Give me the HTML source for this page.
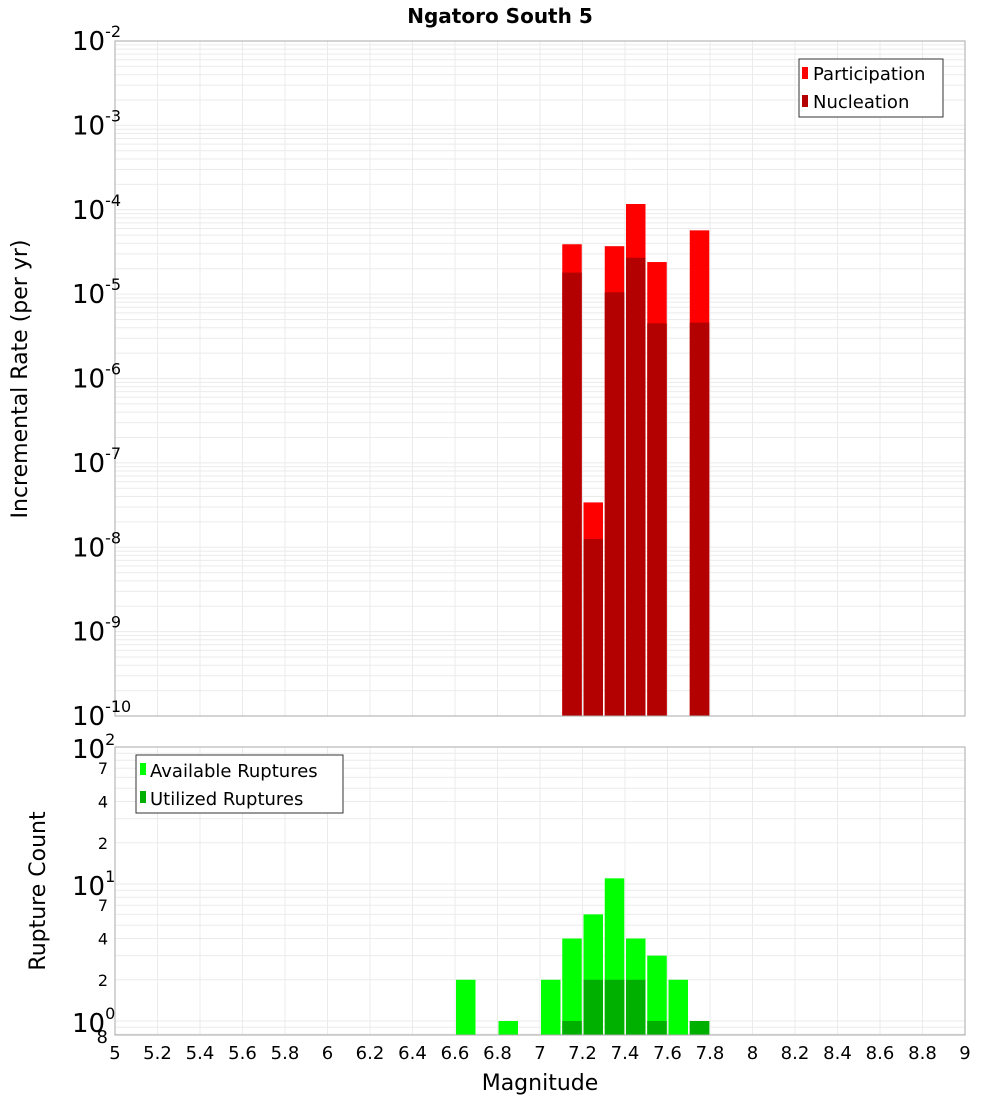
<!DOCTYPE html>
<html><head><meta charset="utf-8"><style>
body{margin:0;background:#fff;}
svg{font-family:"DejaVu Sans","Liberation Sans",sans-serif;}
</style></head><body>
<svg id="c" width="1000" height="1100" viewBox="0 0 1000 1100" xmlns="http://www.w3.org/2000/svg">
<text x="500" y="23" text-anchor="middle" font-size="20" font-weight="bold">Ngatoro South 5</text>
<g id="grid"></g>
<g id="bars"></g>
<g id="axes"></g>
<text transform="translate(27,379) rotate(-90)" text-anchor="middle" font-size="22">Incremental Rate (per yr)</text>
<text transform="translate(45,891) rotate(-90)" text-anchor="middle" font-size="22">Rupture Count</text>
<text x="540" y="1090" text-anchor="middle" font-size="22">Magnitude</text>
<g>
<rect x="799" y="59" width="144" height="58" fill="#fff" stroke="#333" stroke-width="1"/>
<rect x="802" y="67" width="6" height="12" fill="#ff0000"/>
<text x="813" y="80" font-size="18">Participation</text>
<rect x="802" y="95" width="6" height="12" fill="#b30000"/>
<text x="813" y="108" font-size="18">Nucleation</text>
</g>
<g>
<rect x="136" y="755" width="207" height="58" fill="#fff" stroke="#333" stroke-width="1"/>
<rect x="140" y="763" width="6" height="12" fill="#00ff00"/>
<text x="150" y="777" font-size="18">Available Ruptures</text>
<rect x="140" y="791" width="6" height="12" fill="#00b000"/>
<text x="150" y="805" font-size="18">Utilized Ruptures</text>
</g>
</svg>
<script>
const mags = [7.1, 7.2, 7.3, 7.4, 7.5, 7.7];
const participation = [3.9e-5, 3.4e-8, 3.7e-5, 1.17e-4, 2.4e-5, 5.7e-5];
const nucleation = [1.8e-5, 1.25e-8, 1.05e-5, 2.7e-5, 4.5e-6, 4.6e-6];
const countMags = [6.6, 6.8, 7.0, 7.1, 7.2, 7.3, 7.4, 7.5, 7.6, 7.7];
const available = [2, 1, 2, 4, 6, 11, 4, 3, 2, 1];
const utilized = [0, 0, 0, 1, 2, 2, 2, 1, 0, 1];
const xTicks = [5,5.2,5.4,5.6,5.8,6,6.2,6.4,6.6,6.8,7,7.2,7.4,7.6,7.8,8,8.2,8.4,8.6,8.8,9];
const topExps = [-2,-3,-4,-5,-6,-7,-8,-9,-10];

const NS="http://www.w3.org/2000/svg";
const L=115,R=965,T1=41,B1=716,T2=747,B2=1035;
const x=m=>L+(m-5)*(R-L)/4;
const y1=v=>T1+(-2-Math.log10(v))*(B1-T1)/8;
const y2=v=>1021-Math.log10(v)*137;
function mk(tag,attrs,parent){const e=document.createElementNS(NS,tag);for(const k in attrs)e.setAttribute(k,attrs[k]);document.getElementById(parent).appendChild(e);return e;}

// grids
for(let d=-10;d<-2;d++)for(let k=1;k<10;k++){const yy=y1(k*Math.pow(10,d));
 const g=mk('line',{x1:L,x2:R,y1:yy,y2:yy,stroke:'#ebebeb'},'grid');
 
 }
for(let d=-1;d<2;d++)for(let k=1;k<10;k++){const yy=y2(k*Math.pow(10,d));if(yy<T2||yy>B2)continue;
 const g=mk('line',{x1:L,x2:R,y1:yy,y2:yy,stroke:'#ebebeb'},'grid');
 
 }
xTicks.forEach(t=>{const xx=x(t);
 const g=mk('line',{x1:xx,x2:xx,y1:T1,y2:B1,stroke:'#ebebeb'},'grid');
 
 
 const h=mk('line',{x1:xx,x2:xx,y1:T2,y2:B2,stroke:'#ebebeb'},'grid');
 
 
 const lab=mk('text',{x:xx,y:1059,'text-anchor':'middle','font-size':18},'axes');lab.textContent=String(t);
 
 });

// top bars
mags.forEach((m,i)=>{
 const p=mk('rect',{x:x(m)+1,y:y1(participation[i]),width:19.5,height:B1-y1(participation[i]),fill:'#ff0000'},'bars');
 
 
 const n=mk('rect',{x:x(m)+1,y:y1(nucleation[i]),width:19.5,height:B1-y1(nucleation[i]),fill:'#b30000'},'bars');
 
 });
// bottom bars
countMags.forEach((m,i)=>{
 const a=mk('rect',{x:x(m)+1,y:y2(available[i]),width:19.5,height:B2-y2(available[i]),fill:'#00ff00'},'bars');
 
 
 if(utilized[i]>0){const u=mk('rect',{x:x(m)+1,y:y2(utilized[i]),width:19.5,height:B2-y2(utilized[i]),fill:'#00b000'},'bars');
 
 }});

// frames
const f1=mk('rect',{x:L,y:T1,width:R-L,height:B1-T1,fill:'none',stroke:'#aaa'},'axes');


const f2=mk('rect',{x:L,y:T2,width:R-L,height:B2-T2,fill:'none',stroke:'#aaa'},'axes');



// top y labels
topExps.forEach(e=>{const yy=y1(Math.pow(10,e));
 const t=mk('text',{x:108,y:yy+9,'text-anchor':'end','font-size':26},'axes');
 
 
 t.innerHTML='10<tspan dy="-13" font-size="16">'+e+'</tspan>';
 t.setAttribute('x',72);t.setAttribute('text-anchor','start');});
// bottom y labels
[[2,747],[1,884],[0,1021]].forEach(([e,yy])=>{
 const t=mk('text',{x:72,y:yy+11,'font-size':26},'axes');
 
 
 t.innerHTML='10<tspan dy="-13" font-size="16">'+e+'</tspan>';});
[[70,'7'],[40,'4'],[20,'2'],[7,'7'],[4,'4'],[2,'2']].forEach(([v,s])=>{
 const t=mk('text',{x:108,y:y2(v)+6,'text-anchor':'end','font-size':16},'axes');t.textContent=s;
 
 });
const e8=mk('text',{x:108,y:1043,'text-anchor':'end','font-size':18},'axes');e8.textContent='8';


</script>
</body></html>
